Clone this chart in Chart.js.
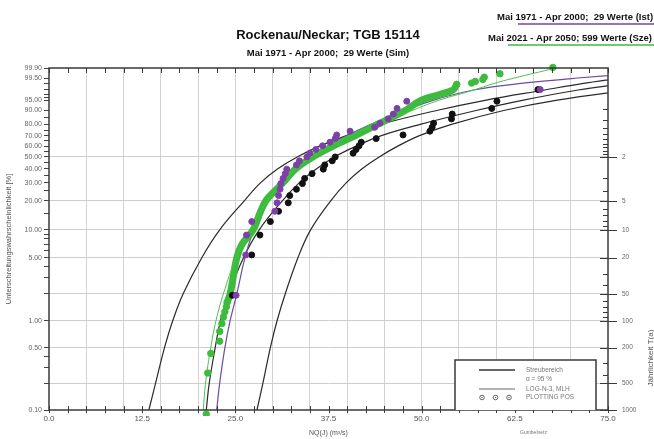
<!DOCTYPE html>
<html>
<head>
<meta charset="utf-8">
<title>Rockenau/Neckar; TGB 15114</title>
<script src="https://cdn.jsdelivr.net/npm/chart.js@4.4.1/dist/chart.umd.min.js"></script>
<style>
    html, body { margin: 0; padding: 0; background: #fff; }
    canvas { display: block; }
</style>
</head>
<body>
<canvas id="chart" width="654" height="439"></canvas>
<script>
// ---- data (NQ in m3/s, probabilities in %) ----

// plotting positions of the 29 annual values
const pos29 = [1.92, 5.36, 8.79, 12.23, 15.66, 19.09, 22.53, 25.96, 29.40, 32.83, 36.26, 39.70, 43.13, 46.57, 50.00,
    53.43, 56.87, 60.30, 63.74, 67.17, 70.60, 74.04, 77.47, 80.91, 84.34, 87.77, 91.21, 94.64, 98.08];
// observed 1971-2000 (Ist)
const nqIst = [25.1, 26.4, 26.5, 27.2, 30.3, 30.6, 30.8, 31.0, 31.1, 31.4, 31.7, 31.9, 33.2, 33.6, 34.6,
    35.0, 35.8, 36.7, 37.7, 38.4, 38.6, 40.4, 43.7, 44.4, 45.5, 46.2, 46.7, 48.0, 65.9];
// simulated 1971-2000 (Sim)
const nqSim = [24.6, 27.2, 28.3, 29.7, 30.8, 32.1, 32.3, 33.2, 34.0, 34.3, 35.3, 36.8, 37.0, 38.0, 38.4,
    40.8, 41.2, 41.6, 41.9, 43.9, 47.5, 51.1, 51.4, 51.6, 54.0, 54.1, 59.4, 60.1, 65.6];

// scenario 2021-2050 (Sze), 599 values: sparse tails ...
const szeTailPos = [0.09, 0.26, 0.43, 0.59, 0.76, 0.93, 1.10, 1.26, 1.43, 1.60,
    98.91, 99.07, 99.24, 99.41, 99.57, 99.74, 99.91];
const szeTailNq = [21.1, 21.3, 21.7, 22.9, 22.9, 23.2, 23.4, 23.6, 23.8, 23.9,
    54.7, 56.7, 57.2, 58.2, 58.4, 60.5, 67.6];
// ... and the dense middle part
const szeBandPos = [1.6, 2, 3, 5, 7, 10, 15, 20, 25, 30, 40, 50, 60, 70, 80, 90, 95, 97, 98, 98.9];
const szeBandNq = [23.9, 24.3, 24.7, 25.2, 25.9, 27.4, 28.3, 29.1, 30.3, 31.4, 33.1, 35.4, 38.1, 41.1, 44.1,
    47.8, 49.9, 52.5, 54.2, 54.7];

// fitted LOG-N-3 curves and the 95 % band (Streubereich)
const fitPos = [0.1, 0.2, 0.5, 1, 2, 5, 10, 20, 30, 40, 50, 60, 70, 80, 90, 95, 98, 99, 99.5, 99.9];
const fitIst = [22.5, 22.9, 23.6, 24.3, 25.2, 26.3, 27.5, 29.5, 31.2, 33.0, 35.1, 37.4, 40.0, 43.2, 47.8, 51.5, 57.0, 63.0, 70.5, 88.0];
const fitSze = [20.7, 21.0, 21.7, 22.4, 23.4, 25.1, 26.9, 29.3, 31.2, 33.1, 35.2, 37.6, 40.4, 44.0, 48.7, 52.3, 57.0, 59.6, 62.3, 68.0];
const fitSim = [21.1, 21.5, 22.3, 23.0, 24.1, 26.1, 28.2, 31.3, 33.6, 35.9, 38.3, 41.2, 44.6, 49.8, 57.3, 63.5, 71.0, 77.0, 82.0, 92.0];
const bandLow = [13.4, 14.3, 15.5, 16.6, 18.0, 20.5, 22.9, 26.2, 28.4, 30.7, 33.3, 36.3, 39.9, 44.5, 52.0, 58.5, 66.5, 71.5, 76.5, 86.0];
const bandHigh = [27.9, 28.7, 29.7, 30.6, 31.7, 33.4, 35.1, 37.8, 39.9, 42.0, 44.3, 46.8, 49.7, 54.0, 61.0, 68.0, 78.0, 86.0, 92.0, 105.0];

// axis ticks
const pctTicks = [0.1, 0.2, 0.3, 0.4, 0.5, 1, 2, 3, 4, 5, 6, 7, 8, 9, 10, 15, 20, 25, 30, 35, 40, 45, 50,
    55, 60, 65, 70, 75, 80, 85, 90, 95, 96, 97, 98, 99, 99.5, 99.9];
const pctLabels = [0.1, 0.5, 1, 5, 10, 20, 30, 40, 50, 60, 70, 80, 90, 95, 99.5, 99.9];
const returnPeriods = [2, 5, 10, 20, 50, 100, 200, 500, 1000];
const returnMinor = [1.1, 1.2, 1.3, 1.4, 1.5, 1.6, 1.7, 1.8, 1.9, 3, 4, 6, 7, 8, 9, 30, 40, 60, 70, 80, 90, 300, 400];

const pts = (xs, ps) => xs.map((x, i) => ({ x: x, y: ps[i] }));

// Gumbel (minimum) probability paper: linear in ln(-ln(1-p))
function redVar(p) {
    return Math.log(-Math.log(1 - p / 100));
}

class GumbelScale extends Chart.LinearScale {
    determineDataLimits() {
        this.min = this.options.min;
        this.max = this.options.max;
    }
    buildTicks() {
        return [];
    }
    getPixelForValue(value) {
        const lo = redVar(this.min), hi = redVar(this.max);
        return this.getPixelForDecimal((redVar(value) - lo) / (hi - lo));
    }
    getValueForPixel(pixel) {
        const lo = redVar(this.min), hi = redVar(this.max);
        const r = lo + this.getDecimalForPixel(pixel) * (hi - lo);
        return 100 * (1 - Math.exp(-Math.exp(r)));
    }
}
GumbelScale.id = 'gumbel';
GumbelScale.defaults = Chart.LinearScale.defaults;
Chart.register(GumbelScale);

const FONT = "'Liberation Sans', Arial, sans-serif";

// frame, inner ticks, headings and the little legend box
const decorations = {
    id: 'decorations',
    afterDraw(chart) {
        const ctx = chart.ctx;
        const a = chart.chartArea;
        const xs = chart.scales.x;
        const y2 = chart.scales.y2;
        ctx.save();

        // frame
        ctx.strokeStyle = '#3a3a3a';
        ctx.lineWidth = 1.5;
        ctx.strokeRect(a.left, a.top, a.right - a.left, a.bottom - a.top);

        // x ticks top and bottom
        ctx.lineWidth = 1;
        ctx.beginPath();
        xs.ticks.forEach(t => {
            const px = Math.round(xs.getPixelForValue(t.value)) + 0.5;
            ctx.moveTo(px, a.top); ctx.lineTo(px, a.top + 5);
            ctx.moveTo(px, a.bottom - 4); ctx.lineTo(px, a.bottom + 3);
        });
        // right axis ticks
        returnPeriods.forEach(T => {
            const py = Math.round(y2.getPixelForValue(100 / T)) + 0.5;
            ctx.moveTo(a.right - 8, py); ctx.lineTo(a.right + 9, py);
        });
        returnMinor.forEach(T => {
            const py = Math.round(y2.getPixelForValue(100 / T)) + 0.5;
            ctx.moveTo(a.right - 5, py); ctx.lineTo(a.right, py);
        });
        ctx.stroke();

        // headings
        ctx.fillStyle = '#111';
        ctx.textAlign = 'center';
        ctx.textBaseline = 'middle';
        ctx.font = 'bold 13px ' + FONT;
        ctx.fillText('Rockenau/Neckar; TGB 15114', 328, 35);
        ctx.font = 'bold 9.5px ' + FONT;
        ctx.fillText('Mai 1971 - Apr 2000;  29 Werte (Sim)', 328, 53);

        ctx.textAlign = 'left';
        ctx.fillText('Mai 1971 - Apr 2000;  29 Werte (Ist)', 497, 17);
        ctx.fillText('Mai 2021 - Apr 2050; 599 Werte (Sze)', 488, 38);
        ctx.lineWidth = 1.5;
        ctx.strokeStyle = '#7d3fa8';
        ctx.beginPath(); ctx.moveTo(518, 24); ctx.lineTo(654, 24); ctx.stroke();
        ctx.strokeStyle = '#3dbb3d';
        ctx.beginPath(); ctx.moveTo(508, 45); ctx.lineTo(654, 45); ctx.stroke();

        // right axis title
        ctx.save();
        ctx.translate(651, 358);
        ctx.rotate(-Math.PI / 2);
        ctx.textAlign = 'center';
        ctx.fillStyle = '#555';
        ctx.font = '8px ' + FONT;
        ctx.fillText('Jährlichkeit T(a)', 0, 0);
        ctx.restore();

        // legend box
        ctx.fillStyle = '#fff';
        ctx.fillRect(455, 360, 141, a.bottom - 360);
        ctx.strokeStyle = '#3a3a3a';
        ctx.lineWidth = 1.5;
        ctx.beginPath();
        ctx.moveTo(455, a.bottom); ctx.lineTo(455, 360); ctx.lineTo(596, 360); ctx.lineTo(596, a.bottom);
        ctx.stroke();
        ctx.strokeStyle = '#333';
        ctx.beginPath(); ctx.moveTo(479, 370); ctx.lineTo(515, 370); ctx.stroke();
        ctx.lineWidth = 1;
        ctx.strokeStyle = '#666';
        ctx.beginPath(); ctx.moveTo(479, 389); ctx.lineTo(515, 389); ctx.stroke();
        [482, 495.5, 509].forEach(cx => {
            ctx.beginPath(); ctx.arc(cx, 397.5, 2.3, 0, Math.PI * 2); ctx.stroke();
            ctx.beginPath(); ctx.arc(cx, 397.5, 0.7, 0, Math.PI * 2); ctx.fillStyle = '#666'; ctx.fill();
        });
        ctx.fillStyle = '#777';
        ctx.font = '6.5px ' + FONT;
        ctx.fillText('Streubereich', 526, 370);
        ctx.fillText('\u03b1 = 95 %', 526, 379.5);
        ctx.fillText('LOG-N-3, MLH', 526, 389);
        ctx.fillText('PLOTTING POS', 526, 397.5);

        ctx.font = '5px ' + FONT;
        ctx.fillText('Gumbelnetz', 520, 433);
        ctx.restore();
    }
};

const lineSet = (label, xs, color, width) => ({
    label: label,
    data: pts(xs, fitPos),
    showLine: true,
    borderColor: color,
    borderWidth: width,
    pointRadius: 0,
    tension: 0.4
});

new Chart(document.getElementById('chart'), {
    type: 'scatter',
    data: {
        datasets: [
            { label: 'Ist', data: pts(nqIst, pos29), backgroundColor: '#7d3fa8', borderColor: '#7d3fa8',
              pointRadius: 3, clip: 6 },
            { label: 'Sim', data: pts(nqSim, pos29), backgroundColor: '#111', borderColor: '#111',
              pointRadius: 3, clip: 6 },
            { label: 'Sze', data: pts(szeTailNq, szeTailPos), backgroundColor: '#3dbb3d', borderColor: '#3dbb3d',
              pointRadius: 3.2, clip: 6 },
            lineSet('LOG-N-3 Sze', fitSze, '#4cc24c', 1),
            { label: 'Sze dicht', data: pts(szeBandNq, szeBandPos), showLine: true, borderColor: '#3dbb3d',
              borderWidth: 7, borderCapStyle: 'round', borderJoinStyle: 'round', pointRadius: 0, tension: 0.4 },
            lineSet('LOG-N-3 Ist', fitIst, '#6b4ca6', 1.2),
            lineSet('LOG-N-3 Sim', fitSim, '#2a2a2a', 1.2),
            lineSet('Streubereich unten', bandLow, '#2a2a2a', 1.2),
            lineSet('Streubereich oben', bandHigh, '#2a2a2a', 1.2)
        ]
    },
    options: {
        responsive: false,
        animation: false,
        layout: { padding: { top: 68, left: 0, right: 0, bottom: 0 } },
        plugins: { legend: { display: false }, tooltip: { enabled: false } },
        scales: {
            x: {
                type: 'linear',
                position: 'bottom',
                min: 0,
                max: 75,
                afterFit: s => { s.height = 29; },
                ticks: {
                    stepSize: 2.5,
                    autoSkip: false,
                    maxRotation: 0,
                    padding: 4,
                    color: '#555',
                    font: { family: FONT, size: 8 },
                    callback: v => Math.abs(v / 12.5 - Math.round(v / 12.5)) < 1e-6 ? v.toFixed(1) : ''
                },
                grid: {
                    drawTicks: false,
                    color: c => {
                        const v = c.tick ? c.tick.value : 0;
                        return (v > 0 && v < 75 && Math.abs(v / 5 - Math.round(v / 5)) < 1e-6) ? '#d2d2d2' : 'rgba(0,0,0,0)';
                    }
                },
                border: { display: false },
                title: {
                    display: true,
                    text: 'NQ(J) (m\u00b3/s)',
                    color: '#555',
                    font: { family: FONT, size: 7 },
                    padding: { top: 0, bottom: 2 }
                }
            },
            y: {
                type: 'gumbel',
                position: 'left',
                min: 0.1,
                max: 99.9,
                afterFit: s => { s.width = 49; },
                afterBuildTicks: s => { s.ticks = pctTicks.map(v => ({ value: v })); },
                ticks: {
                    autoSkip: false,
                    padding: 2,
                    color: '#666',
                    font: { family: FONT, size: 7 },
                    callback: v => pctLabels.includes(v) ? v.toFixed(2) : ''
                },
                grid: { drawOnChartArea: false, tickLength: 5, tickColor: '#444' },
                border: { display: false },
                title: {
                    display: true,
                    text: 'Unterschreitungswahrscheinlichkeit [%]',
                    color: '#555',
                    font: { family: FONT, size: 7.5 },
                    padding: { top: 4, bottom: 0 }
                }
            },
            y2: {
                type: 'gumbel',
                position: 'right',
                min: 0.1,
                max: 99.9,
                afterFit: s => { s.width = 46; },
                afterBuildTicks: s => { s.ticks = returnPeriods.map(T => ({ value: 100 / T })); },
                ticks: {
                    autoSkip: false,
                    padding: 14,
                    color: '#666',
                    font: { family: FONT, size: 6.5 },
                    callback: v => String(Math.round(100 / v))
                },
                grid: {
                    drawTicks: false,
                    color: c => (c.tick && c.tick.value > 0.15) ? '#cdcdcd' : 'rgba(0,0,0,0)'
                },
                border: { display: false }
            }
        }
    },
    plugins: [decorations]
});
</script>
</body>
</html>
